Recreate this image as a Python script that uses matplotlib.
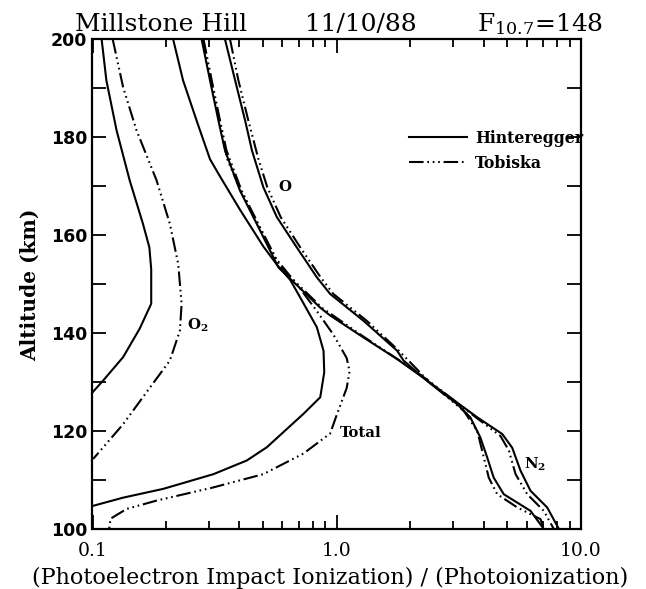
import matplotlib
matplotlib.use("Agg")
import matplotlib.pyplot as plt
from matplotlib.lines import Line2D
from matplotlib.ticker import FixedLocator, NullFormatter

plt.rcParams['mathtext.fontset'] = 'dejavuserif'

# ---------------- data (altitude km, ratio) ----------------
alt_o2_h = [200, 191.6, 181.4, 171.2, 162.3, 157.5, 153, 146, 140.9, 135.1, 130.3, 127.9]
val_o2_h = [0.109, 0.114, 0.1255, 0.142, 0.161, 0.171, 0.174, 0.174, 0.156, 0.1335, 0.1105, 0.100]

alt_o2_t = [200, 190.2, 181.4, 171.2, 162.3, 154.1, 150.7, 146, 140.5, 134.4, 128.9, 121.4, 114.3]
val_o2_t = [0.121, 0.1335, 0.1515, 0.183, 0.2075, 0.2245, 0.2275, 0.2318, 0.228, 0.2075, 0.172, 0.1335, 0.1006]

alt_tot_h = [200, 191.6, 183.4, 175.5, 172.0, 165.2, 157.7, 154.0, 150.9, 147.3, 141.2, 136.4, 132,
             126.9, 123.5, 116.7, 114.0, 111.2, 108.2, 106.4, 104.7]
val_tot_h = [0.214, 0.235, 0.267, 0.303, 0.333, 0.402, 0.501, 0.569, 0.645, 0.709, 0.830, 0.884, 0.89,
             0.857, 0.731, 0.518, 0.429, 0.313, 0.195, 0.1335, 0.100]

alt_tot_t = [200, 191.6, 183.4, 175.6, 169.1, 162.3, 155.4, 150.0, 144.5, 139.7, 134.9, 132.2, 128.8,
             123.4, 119.5, 115.4, 111.2, 108.5, 105.8, 104.1, 102.1, 100]
val_tot_t = [0.283, 0.305, 0.331, 0.356, 0.405, 0.474, 0.56, 0.687, 0.830, 0.970, 1.10, 1.13, 1.10,
             1.003, 0.941, 0.731, 0.501, 0.313, 0.183, 0.138, 0.1185, 0.117]

alt_n2_h = [200, 191.6, 183.4, 177.3, 169.1, 162.3, 153.4, 145.2, 143.6, 139.1, 134.7, 130.3,
            122.8, 119.4, 116.6, 111.9, 107.8, 104.4, 100]
val_n2_h = [0.280, 0.303, 0.328, 0.349, 0.402, 0.471, 0.578, 0.857, 0.941, 1.29, 1.77, 2.35,
            3.77, 4.77, 5.24, 5.67, 6.23, 7.29, 8.14]

alt_n2_t = [200, 191.6, 183.4, 177.3, 169.1, 162.3, 153.4, 145.2, 139.5, 134.5, 130.3,
            122.8, 119.0, 116.0, 111.2, 107.1, 103.7, 100]
val_n2_t = [0.285, 0.308, 0.333, 0.354, 0.408, 0.478, 0.59, 0.87, 1.27, 1.80, 2.38,
            3.72, 4.69, 5.08, 5.41, 6.04, 7.06, 7.76]

alt_o_h = [200, 191.6, 183.4, 177.3, 169.8, 163.7, 157.5, 151.4, 148.0, 142.5, 136.4, 134.4, 129.7,
           125.5, 122.8, 118.7, 114.6, 110.5, 107.1, 103.7, 100]
val_o_h = [0.349, 0.384, 0.422, 0.45, 0.501, 0.569, 0.687, 0.830, 0.941, 1.29, 1.77, 1.88, 2.42,
           3.12, 3.53, 3.88, 4.14, 4.40, 4.84, 6.23, 7.06]

alt_o_t = [200, 191.6, 183.4, 175.6, 169.8, 163.7, 157.5, 151.4, 148.0, 142.5, 136.4, 130.0,
           124.1, 120.0, 114.6, 110.5, 107.1, 104.4, 102.0, 100]
val_o_t = [0.366, 0.396, 0.435, 0.478, 0.52, 0.59, 0.71, 0.86, 0.97, 1.33, 1.80, 2.40,
           3.32, 3.77, 4.01, 4.20, 4.55, 5.50, 6.85, 7.06]

curve_labels = ['O$_\\mathbf{2}$', 'Total', 'O', 'N$_\\mathbf{2}$']
label_pos_x = [0.243, 1.034, 0.578, 5.84]
label_pos_y = [141.5, 119.7, 169.8, 113.2]

xtick_vals = [0.1, 1.0, 10.0]
xtick_labels = ['0.1', '1.0', '10.0']
ytick_vals = [100, 120, 140, 160, 180, 200]
legend_names = ['Hinteregger', 'Tobiska']

# ---------------- figure ----------------
fig = plt.figure(figsize=(6.46, 5.89), dpi=100)
ax = fig.add_axes([92.5 / 646, 60 / 589, 488.2 / 646, 489.7 / 589])

lw = 1.5
dashdot = (0, (7, 1.8, 0.8, 1.8, 0.8, 1.8, 0.8, 1.8))
solid_style = dict(color='black', lw=lw, linestyle='-', solid_joinstyle='round')
dash_style = dict(color='black', lw=lw, linestyle=dashdot)

for a, v in [(alt_o2_h, val_o2_h), (alt_tot_h, val_tot_h), (alt_o_h, val_o_h), (alt_n2_h, val_n2_h)]:
    ax.plot(v, a, **solid_style)
for a, v in [(alt_o2_t, val_o2_t), (alt_tot_t, val_tot_t), (alt_o_t, val_o_t), (alt_n2_t, val_n2_t)]:
    ax.plot(v, a, **dash_style)

ax.set_xscale('log')
ax.set_xlim(0.1, 10)
ax.set_ylim(100, 200)

for lab, lx, ly in zip(curve_labels, label_pos_x, label_pos_y):
    ax.text(lx, ly, lab, ha='left', va='center', fontsize=10.8, fontweight='bold',
            family='DejaVu Serif')

# ticks
ax.xaxis.set_major_locator(FixedLocator(xtick_vals))
ax.set_xticklabels(xtick_labels)
minors = [m * d for d in (0.1, 1.0) for m in range(2, 10)]
ax.xaxis.set_minor_locator(FixedLocator(minors))
ax.xaxis.set_minor_formatter(NullFormatter())
ax.set_yticks(ytick_vals)
ax.yaxis.set_minor_locator(FixedLocator([110, 130, 150, 170, 190]))

ax.tick_params(axis='both', which='both', direction='in', top=True, right=True, width=1.3)
ax.tick_params(axis='x', which='major', length=10, pad=9, labelsize=13.5)
ax.tick_params(axis='x', which='minor', length=6)
ax.tick_params(axis='y', which='both', length=10)
ax.tick_params(axis='y', which='major', pad=4, labelsize=12.5)
for t in ax.get_xticklabels():
    t.set_family('DejaVu Serif')
for t in ax.get_yticklabels():
    t.set_family('DejaVu Sans')
    t.set_fontweight('bold')
    t.set_verticalalignment('center_baseline')

for s in ax.spines.values():
    s.set_linewidth(1.6)

# legend
handles = [Line2D([], [], **solid_style), Line2D([], [], **dash_style)]
leg = ax.legend(handles, legend_names, loc='upper left', bbox_to_anchor=(0.648, 0.815),
                frameon=False, handlelength=3.7, handletextpad=0.5, labelspacing=0.5,
                borderpad=0, borderaxespad=0,
                prop=dict(family='DejaVu Serif', weight='bold', size=11.3))

# axis labels
fig.text(330 / 646, 1 - 578 / 589, '(Photoelectron Impact Ionization) / (Photoionization)',
         ha='center', va='center', fontsize=16, family='DejaVu Serif')
fig.text(30 / 646, 1 - 285 / 589, 'Altitude (km)', rotation=90, ha='center', va='center',
         fontsize=14.5, fontweight='bold', family='DejaVu Serif')

# title
ty = 1 - 31 / 589
fig.text(75 / 646, ty, 'Millstone Hill', ha='left', va='baseline', fontsize=18, family='DejaVu Serif')
fig.text(305 / 646, ty, '11/10/88', ha='left', va='baseline', fontsize=18, family='DejaVu Serif')
fig.text(603 / 646, ty, 'F$_{10.7}$=148', ha='right', va='baseline', fontsize=18, family='DejaVu Serif')

fig.savefig('out.png', dpi=100)
